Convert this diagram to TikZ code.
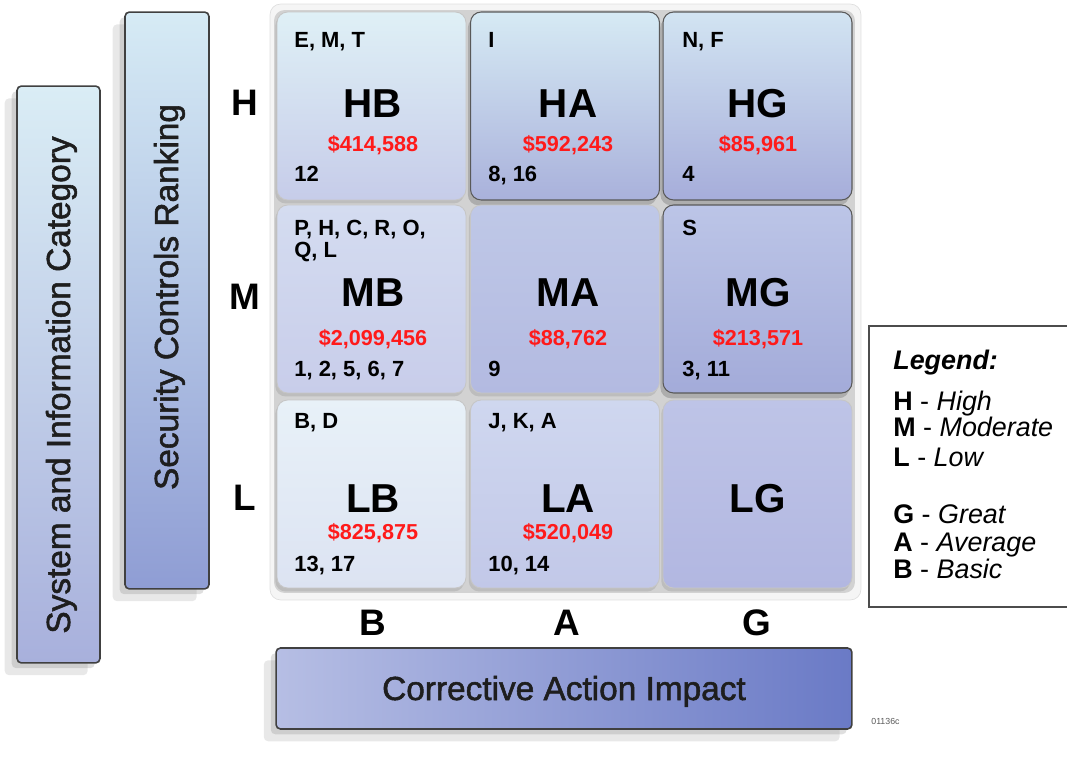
\documentclass[tikz,border=0pt]{standalone}
\usepackage{fontspec}
\setmainfont{Liberation Sans}
\newfontfamily\titlefont[FakeBold=1.6]{Liberation Sans}
\usetikzlibrary{shadows}
\definecolor{costred}{HTML}{FF1A1A}
\definecolor{titleink}{HTML}{1E1E1E}
\tikzstyle{cell_flat} = [rectangle, rounded corners=6pt, draw=gray!45, line width=0.5pt, minimum width=3.78cm, minimum height=3.76cm, inner sep=0pt, drop shadow={shadow xshift=-1pt, shadow yshift=-2pt, opacity=0.25}]
\tikzstyle{cell_raised} = [rectangle, rounded corners=6pt, draw=gray!70!black, line width=0.6pt, minimum width=3.78cm, minimum height=3.76cm, inner sep=0pt, drop shadow={shadow xshift=-1.5pt, shadow yshift=-3pt, opacity=0.45}]
\tikzstyle{axis_box} = [rectangle, rounded corners=2.5pt, draw=black!75, line width=0.9pt, inner sep=0pt, drop shadow={shadow xshift=-3pt, shadow yshift=-3pt, opacity=0.25}, drop shadow={shadow xshift=-7pt, shadow yshift=-7pt, opacity=0.18}]
\tikzstyle{tag_text} = [anchor=base west, inner sep=0pt, font=\bfseries\fontsize{12.5}{14}\selectfont]
\tikzstyle{code_text} = [anchor=base, inner sep=0pt, font=\bfseries\fontsize{23}{26}\selectfont]
\tikzstyle{cost_text} = [anchor=base, inner sep=0pt, text=costred, font=\bfseries\fontsize{12.3}{14}\selectfont]
\tikzstyle{level_text} = [anchor=base, inner sep=0pt, font=\bfseries\fontsize{21}{24}\selectfont]
\tikzstyle{title_text} = [anchor=base, inner sep=0pt, text=titleink, font=\titlefont\fontsize{19}{22}\selectfont]
\tikzstyle{legend_text} = [anchor=base west, inner sep=0pt, font=\fontsize{15.3}{17}\selectfont]

\begin{document}
\begin{tikzpicture}[x=0.02cm, y=-0.02cm]
			\useasboundingbox (0,0) rectangle (1067,759);
			% axis boxes
			\node (SysCat) at (58.5,374.5) [axis_box, minimum width=1.66cm, minimum height=11.54cm, top color={rgb,255:red,218;green,237;blue,245}, bottom color={rgb,255:red,168;green,176;blue,220}] {};
			\node (SecRank) at (167,300.5) [axis_box, minimum width=1.68cm, minimum height=11.54cm, top color={rgb,255:red,214;green,235;blue,245}, bottom color={rgb,255:red,143;green,157;blue,212}] {};
			\node (Impact) at (564,688.5) [axis_box, minimum width=11.52cm, minimum height=1.62cm, left color={rgb,255:red,182;green,190;blue,228}, right color={rgb,255:red,106;green,122;blue,198}] {};
			\node (SysCat_text) at (70,385) [title_text, rotate=90] {System and Information Category};
			\node (SecRank_text) at (178,297) [title_text, rotate=90] {Security Controls Ranking};
			\node (Impact_text) at (564,700) [title_text] {Corrective Action Impact};
			% grid background
			\node (halo) at (565.5,302) [rectangle, rounded corners=6pt, fill=gray!8, draw=gray!25, minimum width=11.82cm, minimum height=11.92cm] {};
			\node (grid) at (564.5,301.5) [rectangle, rounded corners=6pt, fill=gray!35, minimum width=11.62cm, minimum height=11.66cm] {};
			% cells
			\node (HB) at (371.5,106) [cell_flat, top color={rgb,255:red,223;green,240;blue,246}, bottom color={rgb,255:red,198;green,204;blue,233}] {};
			\node (HA) at (565,106) [cell_raised, top color={rgb,255:red,214;green,234;blue,244}, bottom color={rgb,255:red,169;green,177;blue,219}] {};
			\node (HG) at (757.5,106) [cell_raised, top color={rgb,255:red,210;green,228;blue,242}, bottom color={rgb,255:red,166;green,173;blue,218}] {};
			\node (MB) at (371.5,299) [cell_flat, top color={rgb,255:red,212;green,220;blue,240}, bottom color={rgb,255:red,200;green,205;blue,234}] {};
			\node (MA) at (565,299) [cell_flat, top color={rgb,255:red,191;green,200;blue,231}, bottom color={rgb,255:red,179;green,186;blue,225}] {};
			\node (MG) at (757.5,299) [cell_raised, top color={rgb,255:red,188;green,197;blue,231}, bottom color={rgb,255:red,163;green,171;blue,217}] {};
			\node (LB) at (371.5,494) [cell_flat, top color={rgb,255:red,232;green,241;blue,248}, bottom color={rgb,255:red,220;green,227;blue,242}] {};
			\node (LA) at (565,494) [cell_flat, top color={rgb,255:red,207;green,215;blue,239}, bottom color={rgb,255:red,194;green,200;blue,232}] {};
			\node (LG) at (757.5,494) [cell_flat, top color={rgb,255:red,190;green,196;blue,231}, bottom color={rgb,255:red,178;green,183;blue,225}] {};
			% row H
			\node (HB_tag) at (294,48) [tag_text] {E, M, T};
			\node (HB_code) at (373,118) [code_text] {HB};
			\node (HB_cost) at (373,152) [cost_text] {\$414,588};
			\node (HB_num) at (294,182) [tag_text] {12};
			\node (HA_tag) at (488,48) [tag_text] {I};
			\node (HA_code) at (568,118) [code_text] {HA};
			\node (HA_cost) at (568,152) [cost_text] {\$592,243};
			\node (HA_num) at (488,182) [tag_text] {8, 16};
			\node (HG_tag) at (682,48) [tag_text] {N, F};
			\node (HG_code) at (758,118) [code_text] {HG};
			\node (HG_cost) at (758,152) [cost_text] {\$85,961};
			\node (HG_num) at (682,182) [tag_text] {4};
			% row M
			\node (MB_tag) at (294,236) [tag_text] {P, H, C, R, O,};
			\node (MB_tag2) at (294,258) [tag_text] {Q, L};
			\node (MB_code) at (373,307) [code_text] {MB};
			\node (MB_cost) at (373,346) [cost_text] {\$2,099,456};
			\node (MB_num) at (294,377) [tag_text] {1, 2, 5, 6, 7};
			\node (MA_code) at (568,307) [code_text] {MA};
			\node (MA_cost) at (568,346) [cost_text] {\$88,762};
			\node (MA_num) at (488,377) [tag_text] {9};
			\node (MG_tag) at (682,236) [tag_text] {S};
			\node (MG_code) at (758,307) [code_text] {MG};
			\node (MG_cost) at (758,346) [cost_text] {\$213,571};
			\node (MG_num) at (682,377) [tag_text] {3, 11};
			% row L
			\node (LB_tag) at (294,429) [tag_text] {B, D};
			\node (LB_code) at (373,512) [code_text] {LB};
			\node (LB_cost) at (373,539) [cost_text] {\$825,875};
			\node (LB_num) at (294,571) [tag_text] {13, 17};
			\node (LA_tag) at (488,429) [tag_text] {J, K, A};
			\node (LA_code) at (568,512) [code_text] {LA};
			\node (LA_cost) at (568,539) [cost_text] {\$520,049};
			\node (LA_num) at (488,571) [tag_text] {10, 14};
			\node (LG_code) at (758,512) [code_text] {LG};
			% levels
			\node (lvl_H) at (245,116) [level_text] {H};
			\node (lvl_M) at (245,310) [level_text] {M};
			\node (lvl_L) at (245,510) [level_text] {L};
			\node (lvl_B) at (373,635) [level_text] {B};
			\node (lvl_A) at (567,635) [level_text] {A};
			\node (lvl_G) at (757,635) [level_text] {G};
			% legend
			\node (legend) at (974.5,466.5) [rectangle, draw=black!70, line width=0.9pt, fill=white, minimum width=4.22cm, minimum height=5.62cm] {};
			\node (leg_title) at (893,370) [legend_text] {\textbf{\textit{Legend:}}};
			\node (leg_H) at (893,411) [legend_text] {\textbf{H} - \textit{High}};
			\node (leg_M) at (893,437) [legend_text] {\textbf{M} - \textit{Moderate}};
			\node (leg_L) at (893,466) [legend_text] {\textbf{L} - \textit{Low}};
			\node (leg_G) at (893,523) [legend_text] {\textbf{G} - \textit{Great}};
			\node (leg_A) at (893,551) [legend_text] {\textbf{A} - \textit{Average}};
			\node (leg_B) at (893,578) [legend_text] {\textbf{B} - \textit{Basic}};
			\node (fig_id) at (871,724) [anchor=base west, inner sep=0pt, text=gray!70!black, font=\fontsize{5}{6}\selectfont] {01136c};
		\end{tikzpicture}
\end{document}
